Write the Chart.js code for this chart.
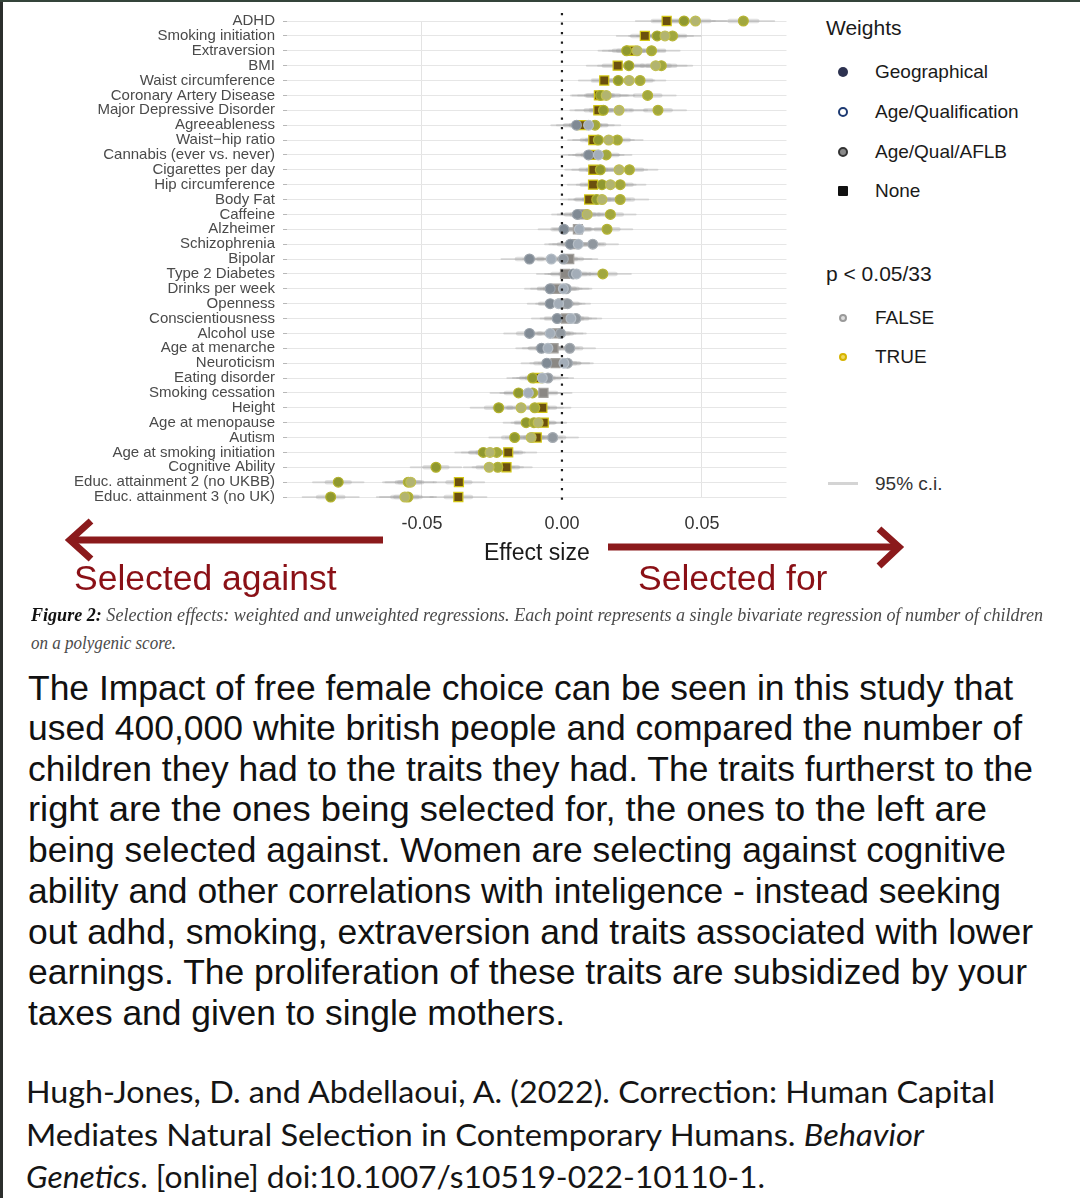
<!DOCTYPE html>
<html><head><meta charset="utf-8">
<script src="https://cdn.jsdelivr.net/npm/chart.js@4.4.1/dist/chart.umd.min.js"></script>
<style>
html,body{margin:0;padding:0;background:#fff;}
#page{position:relative;width:1080px;height:1198px;overflow:hidden;background:#fff;font-family:"Liberation Sans",Arial,sans-serif;}
#chartWrap{position:absolute;left:0;top:0;width:800px;height:545px;}
.t{position:absolute;white-space:nowrap;transform-origin:left center;}
.lg{position:absolute;white-space:nowrap;font-size:19px;color:#1a1a1a;line-height:24px;}
.mk{position:absolute;box-sizing:border-box;}
#lborder{position:absolute;left:0;top:0;width:3px;height:1198px;background:#2b2e2c;}
#tborder{position:absolute;left:0;top:0;width:1080px;height:2px;background:#34443a;}
.para{position:absolute;left:28px;font-size:35px;line-height:40px;color:#111;white-space:nowrap;transform-origin:left center;}
.cite{position:absolute;left:26px;font-family:Lato,"Open Sans",sans-serif;font-size:31px;line-height:40px;color:#151515;white-space:nowrap;transform-origin:left center;}
.cap{position:absolute;left:31px;font-family:"Liberation Serif",serif;font-style:italic;font-size:19px;line-height:24px;color:#4a4a4a;white-space:nowrap;transform-origin:left center;}
</style>
</head>
<body>
<div id="page">
  <div id="chartWrap"><canvas id="c" width="800" height="545" style="width:800px;height:545px;"></canvas></div>

  <div class="t" style="left:484px;top:538px;font-size:23px;line-height:28px;color:#1a1a1a;">Effect size</div>

  <!-- legend -->
  <div class="lg" style="left:826px;top:15px;font-size:21px;line-height:26px;">Weights</div>
  <div class="mk" style="left:838px;top:67px;width:10px;height:10px;border-radius:50%;background:#2d3250;"></div>
  <div class="lg" style="left:875px;top:60px;">Geographical</div>
  <div class="mk" style="left:838px;top:107px;width:10px;height:10px;border-radius:50%;border:2.5px solid #1d3a72;background:#fff;"></div>
  <div class="lg" style="left:875px;top:100px;">Age/Qualification</div>
  <div class="mk" style="left:838px;top:147px;width:10px;height:10px;border-radius:50%;border:2.5px solid #333;background:#8a8a8a;"></div>
  <div class="lg" style="left:875px;top:140px;">Age/Qual/AFLB</div>
  <div class="mk" style="left:838px;top:186px;width:10px;height:10px;border-radius:1px;background:#111;"></div>
  <div class="lg" style="left:875px;top:179px;">None</div>

  <div class="lg" style="left:826px;top:261px;font-size:21px;line-height:26px;">p &lt; 0.05/33</div>
  <div class="mk" style="left:839px;top:314px;width:8px;height:8px;border-radius:50%;border:2px solid #9a9a9a;background:#dedede;"></div>
  <div class="lg" style="left:875px;top:306px;">FALSE</div>
  <div class="mk" style="left:839px;top:353px;width:8px;height:8px;border-radius:50%;border:2px solid #d6b300;background:#efd860;"></div>
  <div class="lg" style="left:875px;top:345px;">TRUE</div>
  <div class="mk" style="left:828px;top:482px;width:30px;height:3px;background:#d4d4d4;"></div>
  <div class="lg" style="left:875px;top:472px;color:#333;">95% c.i.</div>

  <!-- arrows -->
  <svg style="position:absolute;left:0;top:0;" width="1080" height="620">
    <g stroke="#8b1a1c" stroke-width="7" fill="none" stroke-linejoin="miter" stroke-linecap="butt">
      <line x1="383" y1="540" x2="74" y2="540"/>
      <polyline points="91,521 70,540 91,559"/>
      <line x1="608" y1="547" x2="894" y2="547"/>
      <polyline points="879,529 899,547 879,566"/>
    </g>
  </svg>
  <div class="t" style="left:74px;top:556px;font-size:35.5px;line-height:44px;color:#8a1016;">Selected against</div>
  <div class="t" style="left:638px;top:556px;font-size:35.5px;line-height:44px;color:#8a1016;">Selected for</div>

  <div class="cap" data-w="1012" style="top:603px;"><b style="color:#111;">Figure 2:</b> Selection effects: weighted and unweighted regressions. Each point represents a single bivariate regression of number of children</div>
  <div class="cap" data-w="145" style="top:631px;">on a polygenic score.</div>

  <div class="para" data-w="985" style="top:668px;">The Impact of free female choice can be seen in this study that</div>
  <div class="para" data-w="994" style="top:708px;">used 400,000 white british people and compared the number of</div>
  <div class="para" data-w="1005" style="top:749px;">children they had to the traits they had. The traits furtherst to the</div>
  <div class="para" data-w="959" style="top:789px;">right are the ones being selected for, the ones to the left are</div>
  <div class="para" data-w="978" style="top:830px;">being selected against. Women are selecting against cognitive</div>
  <div class="para" data-w="973" style="top:871px;">ability and other correlations with inteligence - instead seeking</div>
  <div class="para" data-w="1005" style="top:912px;">out adhd, smoking, extraversion and traits associated with lower</div>
  <div class="para" data-w="999" style="top:952px;">earnings. The proliferation of these traits are subsidized by your</div>
  <div class="para" data-w="537" style="top:993px;">taxes and given to single mothers.</div>

  <div class="cite" data-w="969" style="top:1071px;">Hugh-Jones, D. and Abdellaoui, A. (2022). Correction: Human Capital</div>
  <div class="cite" data-w="898" style="top:1114px;">Mediates Natural Selection in Contemporary Humans. <i>Behavior</i></div>
  <div class="cite" data-w="739" style="top:1156px;"><i>Genetics</i>. [online] doi:10.1007/s10519-022-10110-1.</div>

  <div id="lborder"></div>
  <div id="tborder"></div>
</div>

<script>
const categories = ["ADHD","Smoking initiation","Extraversion","BMI","Waist circumference","Coronary Artery Disease","Major Depressive Disorder","Agreeableness","Waist\u2212hip ratio","Cannabis (ever vs. never)","Cigarettes per day","Hip circumference","Body Fat","Caffeine","Alzheimer","Schizophrenia","Bipolar","Type 2 Diabetes","Drinks per week","Openness","Conscientiousness","Alcohol use","Age at menarche","Neuroticism","Eating disorder","Smoking cessation","Height","Age at menopause","Autism","Age at smoking initiation","Cognitive Ability","Educ. attainment 2 (no UKBB)","Educ. attainment 3 (no UK)"];

const xTicks = [-0.05, 0, 0.05];
const xTickLabels = ["-0.05", "0.00", "0.05"];

const noneValues    = [0.0374,0.0296,0.0246,0.0199,0.0151,0.0132,0.0130,0.0072,0.0112,0.0115,0.0112,0.0111,0.0097,0.0075,0.0057,0.0045,0.0026,0.0011,-0.0020,0.0001,0.0014,-0.0017,-0.0030,-0.0023,-0.0085,-0.0066,-0.0070,-0.0065,-0.0090,-0.0192,-0.0198,-0.0368,-0.0370];
const geoValues     = [0.0436,0.0340,0.0231,0.0239,0.0201,0.0138,0.0148,0.0052,0.0130,0.0095,0.0137,0.0143,0.0124,0.0055,0.0007,0.0030,-0.0116,0.0040,-0.0042,-0.0042,-0.0017,-0.0116,-0.0073,-0.0054,-0.0105,-0.0155,-0.0226,-0.0128,-0.0169,-0.0281,-0.0450,-0.0799,-0.0826];
const ageQualValues = [0.0477,0.0368,0.0268,0.0335,0.0240,0.0158,0.0204,0.0095,0.0167,0.0130,0.0204,0.0173,0.0143,0.0090,0.0062,0.0058,-0.0038,0.0052,0.0005,-0.0012,0.0032,-0.0042,-0.0050,0.0007,-0.0070,-0.0120,-0.0146,-0.0085,-0.0110,-0.0257,-0.0260,-0.0540,-0.0561];
const aflbValues    = [0.0648,0.0395,0.0320,0.0355,0.0279,0.0306,0.0343,0.0118,0.0198,0.0158,0.0241,0.0208,0.0208,0.0173,0.0161,0.0110,0.0005,0.0146,0.0015,0.0020,0.0050,-0.0005,0.0028,0.0020,-0.0050,-0.0105,-0.0097,-0.0100,-0.0033,-0.0233,-0.0229,-0.0549,-0.0550];

const noneSig    = [1,1,1,1,1,1,1,1,1,1,1,1,1,0,0,0,0,0,0,0,0,0,0,0,1,0,1,1,1,1,1,1,1];
const geoSig     = [1,1,1,1,1,1,1,0,1,0,1,1,1,0,0,0,0,0,0,0,0,0,0,0,1,1,1,1,1,1,1,1,1];
const ageQualSig = [1,1,1,1,1,1,1,0,1,0,1,1,1,1,0,0,0,0,0,0,0,0,0,0,0,0,1,1,1,1,1,1,1];
const aflbSig    = [1,1,1,1,1,1,1,1,1,1,1,1,1,1,1,0,0,1,0,0,0,0,0,0,0,1,1,1,0,1,1,1,1];

const ciHalfWidth = [0.011,0.010,0.010,0.011,0.009,0.010,0.010,0.009,0.009,0.009,0.010,0.009,0.010,0.009,0.009,0.009,0.010,0.010,0.009,0.008,0.009,0.009,0.009,0.009,0.009,0.010,0.010,0.008,0.009,0.010,0.009,0.009,0.010];

const seriesStyle = {
  geo:     {sigFill:'#8f9830', sigBorder:'#b3b22c', nsFill:'#808a94', nsBorder:'#99a1a9', style:'circle', r:4.9},
  ageQual: {sigFill:'#b2b470', sigBorder:'#c1bf52', nsFill:'#a3adb8', nsBorder:'#b6bec6', style:'circle', r:4.9},
  aflb:    {sigFill:'#a1a73e', sigBorder:'#b7b535', nsFill:'#90979e', nsBorder:'#a6acb2', style:'circle', r:4.9},
  none:    {sigFill:'#6b500e', sigBorder:'#d2c614', nsFill:'#8b8884', nsBorder:'#a5a29e', style:'rect', r:6.4}
};

function makeDataset(name, values, sig, key){
  const st = seriesStyle[key];
  return {
    label: name,
    data: values.map((v,i)=>({x:v, y:categories[i]})),
    pointStyle: st.style,
    pointRadius: st.r,
    pointBackgroundColor: sig.map(s => s ? st.sigFill : st.nsFill),
    pointBorderColor: sig.map(s => s ? st.sigBorder : st.nsBorder),
    pointBorderWidth: 1.2,
    showLine: false
  };
}

const ciPlugin = {
  id: 'ciLines',
  beforeDatasetsDraw(chart){
    const {ctx, scales:{x, y}} = chart;
    ctx.save();
    ctx.lineCap = 'round';
    chart.data.datasets.forEach(ds => {
      ds.data.forEach((p, i) => {
        const h = ciHalfWidth[i];
        const py = y.getPixelForValue(i);
        ctx.strokeStyle = 'rgba(165,165,165,0.35)';
        ctx.lineWidth = 2;
        ctx.beginPath();
        ctx.moveTo(x.getPixelForValue(p.x - h), py);
        ctx.lineTo(x.getPixelForValue(p.x + h), py);
        ctx.stroke();
        ctx.strokeStyle = 'rgba(150,150,150,0.28)';
        ctx.lineWidth = 4.5;
        ctx.beginPath();
        ctx.moveTo(x.getPixelForValue(p.x - h*0.45), py);
        ctx.lineTo(x.getPixelForValue(p.x + h*0.45), py);
        ctx.stroke();
      });
    });
    ctx.restore();
  },
  afterDatasetsDraw(chart){
    const {ctx, chartArea, scales:{x}} = chart;
    const x0 = x.getPixelForValue(0);
    ctx.save();
    ctx.strokeStyle = '#1e1e1e';
    ctx.lineWidth = 2.2;
    ctx.setLineDash([2.2, 7.3]);
    ctx.beginPath();
    ctx.moveTo(x0, chartArea.top - 8);
    ctx.lineTo(x0, chartArea.bottom + 10);
    ctx.stroke();
    ctx.restore();
  }
};

new Chart(document.getElementById('c'), {
  type: 'scatter',
  data: {
    datasets: [
      makeDataset('Age/Qualification', ageQualValues, ageQualSig, 'ageQual'),
      makeDataset('Age/Qual/AFLB', aflbValues, aflbSig, 'aflb'),
      makeDataset('Geographical', geoValues, geoSig, 'geo'),
      makeDataset('None', noneValues, noneSig, 'none')
    ]
  },
  options: {
    responsive: false,
    animation: false,
    maintainAspectRatio: false,
    layout: {padding: {left: 0, top: 21, right: 13.5, bottom: 0}},
    plugins: {legend: {display: false}, tooltip: {enabled: false}},
    scales: {
      x: {
        type: 'linear', min: -0.0982, max: 0.0802,
        afterBuildTicks(s){ s.ticks = xTicks.map(v => ({value: v})); },
        afterFit(s){ s.height = 48; },
        grid: {color: c => (c.tick && c.tick.value === 0) ? 'rgba(0,0,0,0)' : '#e3e3e3', drawTicks: false, lineWidth: 1},
        border: {display: false},
        ticks: {padding: 16, color: '#333', font: {family: 'Liberation Sans', size: 18}, callback: (v, i) => xTickLabels[i], maxRotation: 0, autoSkip: false}
      },
      y: {
        type: 'category', labels: categories, offset: false,
        afterFit(s){ s.width = 287; },
        grid: {color: '#e6e6e6', tickLength: 4, tickColor: '#b8b8b8', lineWidth: 1},
        border: {display: false},
        ticks: {autoSkip: false, padding: 8, color: '#4a4a4a', font: {family: 'Liberation Sans', size: 15}}
      }
    }
  },
  plugins: [ciPlugin]
});

function fitWidths(){
  document.querySelectorAll('[data-w]').forEach(el => {
    el.style.transform = 'none';
    const w = el.getBoundingClientRect().width;
    const t = +el.dataset.w;
    if (w > 0) el.style.transform = 'scaleX(' + (t / w) + ')';
  });
}
fitWidths();
if (document.fonts && document.fonts.ready) document.fonts.ready.then(fitWidths);
</script>
</body></html>
